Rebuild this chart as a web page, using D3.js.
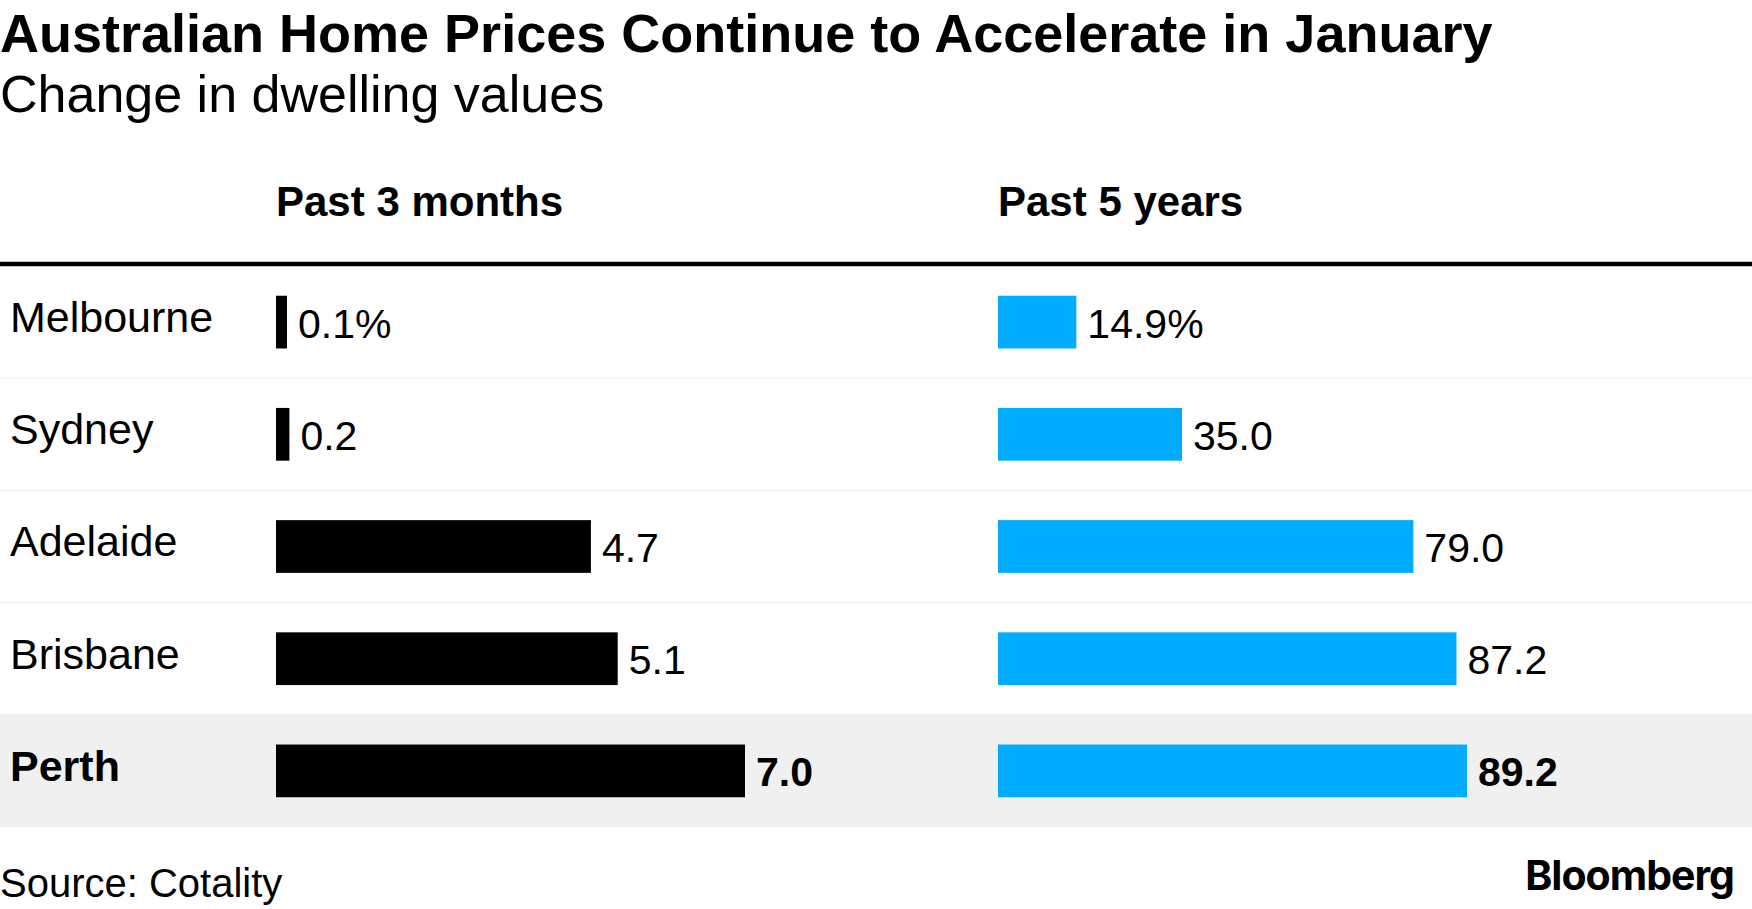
<!doctype html>
<html>
<head>
  <meta charset="utf-8">
  <title>Australian Home Prices</title>
  <script src="https://cdn.jsdelivr.net/npm/d3@7/dist/d3.min.js"></script>
  <style>
    body { margin: 0; background: #fff; }
    text { font-family: "Liberation Sans", Arial, sans-serif; fill: #000; }
  </style>
</head>
<body>
  <svg width="1752" height="909"></svg>
  <script>
  var cities = ["Melbourne", "Sydney", "Adelaide", "Brisbane", "Perth"];
  var past3m = [0.1, 0.2, 4.7, 5.1, 7.0];
  var past5y = [14.9, 35.0, 79.0, 87.2, 89.2];
  var labels3m = ["0.1%", "0.2", "4.7", "5.1", "7.0"];
  var labels5y = ["14.9%", "35.0", "79.0", "87.2", "89.2"];
  var highlight = "Perth";

  var svg = d3.select("svg"),
      width = +svg.attr("width");

  var rows = cities.map(function(c, i) {
    return {city: c, m3: past3m[i], y5: past5y[i], l3: labels3m[i], l5: labels5y[i]};
  });

  var y = d3.scaleBand().domain(cities).range([266, 827]);
  var barH = y.step() * 0.47;

  var x3 = d3.scaleLinear().domain([0, d3.max(past3m)]).range([0, 469]),
      x5 = d3.scaleLinear().domain([0, d3.max(past5y)]).range([0, 469]);
  var left3 = 276, left5 = 998;
  var minW = 11;

  // title block
  svg.append("text").attr("x", 0).attr("y", 52)
      .style("font-size", "54px").style("font-weight", "bold")
      .text("Australian Home Prices Continue to Accelerate in January");
  svg.append("text").attr("x", 0).attr("y", 112)
      .style("font-size", "52px")
      .text("Change in dwelling values");

  svg.append("text").attr("x", left3).attr("y", 216)
      .style("font-size", "42px").style("font-weight", "bold")
      .text("Past 3 months");
  svg.append("text").attr("x", left5).attr("y", 216)
      .style("font-size", "42px").style("font-weight", "bold")
      .text("Past 5 years");

  // highlight band
  svg.append("rect")
      .attr("x", 0).attr("width", width)
      .attr("y", y(highlight)).attr("height", y.bandwidth())
      .attr("fill", "#f0f0f0");

  // row separators
  svg.selectAll(".sep")
    .data(cities.slice(0, cities.length - 1))
    .enter().append("line")
      .attr("class", "sep")
      .attr("x1", 0).attr("x2", width)
      .attr("y1", function(d) { return y(d) + y.bandwidth(); })
      .attr("y2", function(d) { return y(d) + y.bandwidth(); })
      .attr("stroke", "#eeeeee").attr("stroke-width", 1);

  svg.append("line")
      .attr("x1", 0).attr("x2", width)
      .attr("y1", 264).attr("y2", 264)
      .attr("stroke", "#000").attr("stroke-width", 4.5);

  var row = svg.selectAll(".row")
    .data(rows)
    .enter().append("g")
      .attr("class", "row")
      .attr("transform", function(d) { return "translate(0," + (y(d.city) + y.bandwidth() / 2) + ")"; });

  row.append("text")
      .attr("x", 10).attr("dy", "0.23em")
      .style("font-size", "43px")
      .style("font-weight", function(d) { return d.city == highlight ? "bold" : "normal"; })
      .text(function(d) { return d.city; });

  row.append("rect")
      .attr("x", left3).attr("y", -barH / 2)
      .attr("width", function(d) { return Math.max(x3(d.m3), minW); })
      .attr("height", barH)
      .attr("fill", "#000");

  row.append("text")
      .attr("x", function(d) { return left3 + Math.max(x3(d.m3), minW) + 11; })
      .attr("dy", "0.38em")
      .style("font-size", "41px")
      .style("font-weight", function(d) { return d.city == highlight ? "bold" : "normal"; })
      .text(function(d) { return d.l3; });

  row.append("rect")
      .attr("x", left5).attr("y", -barH / 2)
      .attr("width", function(d) { return x5(d.y5); })
      .attr("height", barH)
      .attr("fill", "#00acff");

  row.append("text")
      .attr("x", function(d) { return left5 + x5(d.y5) + 11; })
      .attr("dy", "0.38em")
      .style("font-size", "41px")
      .style("font-weight", function(d) { return d.city == highlight ? "bold" : "normal"; })
      .text(function(d) { return d.l5; });

  // footer
  svg.append("text").attr("x", 0).attr("y", 897)
      .style("font-size", "40px")
      .text("Source: Cotality");
  svg.append("text").attr("x", 1734).attr("y", 890)
      .attr("text-anchor", "end")
      .style("font-family", "Inter, 'Liberation Sans', sans-serif")
      .style("font-size", "41px").style("font-weight", "bold")
      .style("letter-spacing", "-1px")
      .text("Bloomberg");
  </script>
</body>
</html>
